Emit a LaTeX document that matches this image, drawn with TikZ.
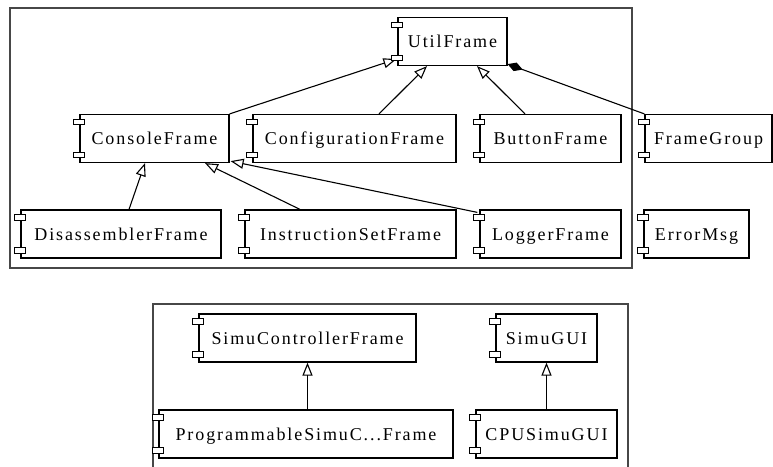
\documentclass[tikz,border=0pt]{standalone}
\usepackage{fontspec}
\setmainfont{Liberation Serif}[LetterSpace=10.5]
\usetikzlibrary{arrows.meta,calc}
\begin{document}
\begin{tikzpicture}[x=1pt,y=-1pt,
  comp/.style={draw, line width=1.2pt, fill=white, minimum height=48pt, inner sep=0pt,
    text height=12pt, text depth=0pt, font=\fontsize{18}{20}\selectfont},
  portbox/.style={draw, line width=1.1pt, fill=white},
  inh/.style={-{Triangle[open,length=13pt,width=10pt]}, line width=1.1pt},
  comps/.style={{Diamond[length=16pt,width=9pt]}-, line width=1.1pt},
  container/.style={draw=black!72, line width=1.3pt}
]
\useasboundingbox (0,0) rectangle (773,466);
\clip (0,0) rectangle (773,466);

% containers
\draw[container] (10,8) rectangle (632,268);
\draw[container] (153,475) -- (153,304) -- (628,304) -- (628,475);

% components
\node[comp, minimum width=109pt] (util) at (452.5,41.5) {UtilFrame};
\node[comp, minimum width=149pt] (console) at (154.5,138.5) {ConsoleFrame};
\node[comp, minimum width=203pt] (config) at (354.5,138.5) {ConfigurationFrame};
\node[comp, minimum width=141pt] (button) at (550.5,138.5) {ButtonFrame};
\node[comp, minimum width=127pt] (framegroup) at (708.5,138.5) {FrameGroup};
\node[comp, minimum width=200pt] (dis) at (121,234) {DisassemblerFrame};
\node[comp, minimum width=211pt] (inst) at (350.5,234) {InstructionSetFrame};
\node[comp, minimum width=141pt] (logger) at (550.5,234) {LoggerFrame};
\node[comp, minimum width=105pt] (errmsg) at (696.5,234) {ErrorMsg};
\node[comp, minimum width=217pt] (simuctrl) at (307.5,338) {SimuControllerFrame};
\node[comp, minimum width=294pt] (prog) at (306,434) {ProgrammableSimuC...Frame};
\node[comp, minimum width=101pt] (simugui) at (546.5,338) {SimuGUI};
\node[comp, minimum width=141pt] (cpugui) at (546.5,434) {CPUSimuGUI};

% connectors
\draw[inh] (console.north east) -- ($(util.south west)+(-1,-7)$);
\draw[inh] ($(config.north)+(24.5,0)$) -- ($(util.south)+(-25.5,0)$);
\draw[inh] ($(button.north)+(-25.5,0)$) -- ($(util.south)+(24.5,0)$);
\draw[comps] ($(util.south east)+(0,-2)$) -- (framegroup.north west);
\draw[inh] ($(dis.north)+(8,0)$) -- ($(console.south)+(-9.5,0)$);
\draw[inh] ($(inst.north)+(-50.5,0)$) -- ($(console.south)+(50.5,0)$);
\draw[inh] ($(logger.north west)+(-2,3)$) -- ($(console.south east)+(1,-2)$);
\draw[inh] (simuctrl.south |- prog.north) -- (simuctrl.south);
\draw[inh] (cpugui.north) -- (simugui.south);

% component ports
\foreach \n in {util,console,config,button,framegroup,dis,inst,logger,errmsg,simuctrl,prog,simugui,cpugui}{
  \draw[portbox] ($(\n.north west)+(-5.5,5.5)$) rectangle ++(11,5.5);
  \draw[portbox] ($(\n.south west)+(-5.5,-11)$) rectangle ++(11,5.5);
}
\end{tikzpicture}
\end{document}
